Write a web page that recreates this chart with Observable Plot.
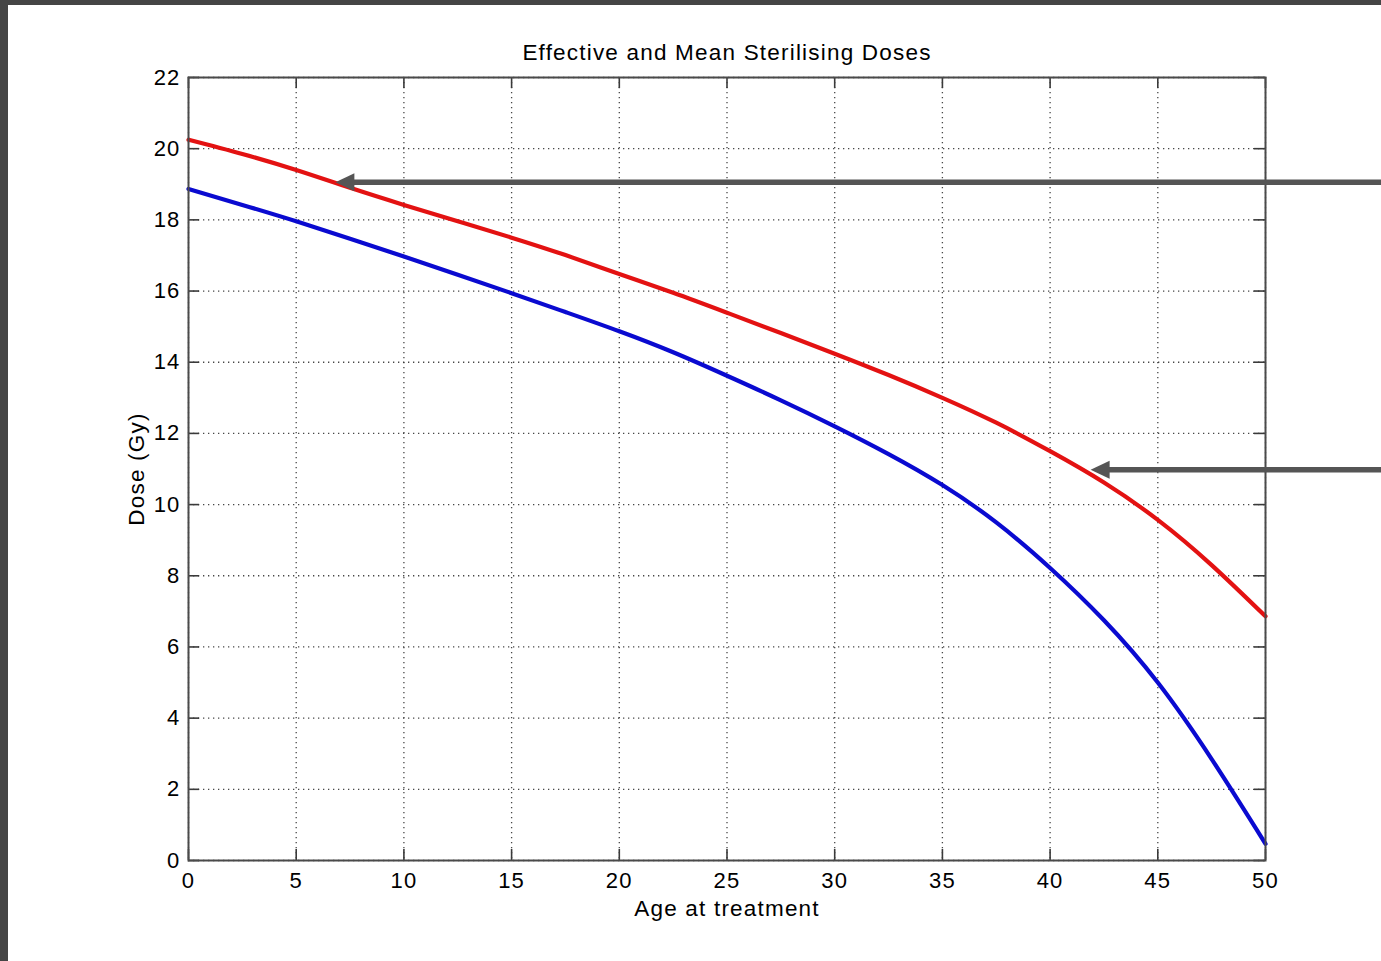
<!DOCTYPE html>
<html>
<head>
<meta charset="utf-8">
<script src="https://cdn.jsdelivr.net/npm/d3@7"></script>
<script src="https://cdn.jsdelivr.net/npm/@observablehq/plot@0.6"></script>
<style>
  html, body { margin: 0; padding: 0; background: #454545; overflow: hidden; }
  #page { position: absolute; left: 8px; top: 5px; width: 1373px; height: 956px; background: #ffffff; overflow: hidden; }
</style>
</head>
<body>
<div id="page"></div>
<script>
// Age at treatment (years)
const ages = [0, 2.5, 5, 7.5, 10, 12.5, 15, 17.5, 20, 22.5, 25, 27.5, 30, 32.5, 35, 37.5, 40, 42.5, 45, 47.5, 50];
// Effective sterilising dose (red, Gy)
const effectiveDose = [20.25, 19.85, 19.4, 18.9, 18.42, 17.96, 17.5, 17.01, 16.48, 15.95, 15.39, 14.82, 14.24, 13.64, 13.0, 12.3, 11.5, 10.62, 9.57, 8.3, 6.86];
// Mean sterilising dose (blue, Gy)
const meanDose = [18.87, 18.42, 17.96, 17.47, 16.97, 16.46, 15.94, 15.41, 14.87, 14.28, 13.62, 12.93, 12.2, 11.42, 10.55, 9.5, 8.22, 6.75, 5.0, 2.85, 0.47];
// Tick values
const xTicks = [0, 5, 10, 15, 20, 25, 30, 35, 40, 45, 50];
const yTicks = [0, 2, 4, 6, 8, 10, 12, 14, 16, 18, 20, 22];
// Annotation arrows (tip positions in data units, tails run off the right edge)
const arrowTipAge = [6.82, 41.88];
const arrowTipDose = [19.06, 10.98];
const arrowTailAge = 56;

const titleText = "Effective and Mean Sterilising Doses";
const xLabel = "Age at treatment";
const yLabel = "Dose (Gy)";

const effRows = ages.map((a, i) => ({age: a, dose: effectiveDose[i]}));
const meanRows = ages.map((a, i) => ({age: a, dose: meanDose[i]}));
const arrows = arrowTipAge.map((a, i) => ({tipX: a, tipY: arrowTipDose[i], tailX: arrowTailAge}));

const W = 1373, H = 956, ML = 180, MR = 116, MT = 72, MB = 101;
const frameW = W - ML - MR, frameH = H - MT - MB;
const tickLen = 11;
const tickColor = "#3a3a3a";
const gridStyle = {stroke: "#333", strokeOpacity: 0.9, strokeWidth: 1.3, strokeDasharray: "1.3,3.7"};

const chart = Plot.plot({
  width: W,
  height: H,
  marginLeft: ML,
  marginRight: MR,
  marginTop: MT,
  marginBottom: MB,
  x: {domain: [0, 50]},
  y: {domain: [0, 22]},
  style: {fontFamily: "'Liberation Sans', Arial, sans-serif", fontSize: "22px", letterSpacing: "1.2px", color: "#000", background: "transparent", overflow: "visible"},
  marks: [
    Plot.gridX(xTicks, gridStyle),
    Plot.gridY(yTicks, gridStyle),
    Plot.ruleX(xTicks, {x: d => d, insetTop: frameH - tickLen, stroke: tickColor, strokeWidth: 1.6}),
    Plot.ruleX(xTicks, {x: d => d, insetBottom: frameH - tickLen, stroke: tickColor, strokeWidth: 1.6}),
    Plot.ruleY(yTicks, {y: d => d, insetRight: frameW - tickLen, stroke: tickColor, strokeWidth: 1.6}),
    Plot.ruleY(yTicks, {y: d => d, insetLeft: frameW - tickLen, stroke: tickColor, strokeWidth: 1.6}),
    Plot.line(meanRows, {x: "age", y: "dose", stroke: "#0a0ad0", strokeWidth: 4.2, curve: "natural", strokeLinejoin: "round"}),
    Plot.line(effRows, {x: "age", y: "dose", stroke: "#e31212", strokeWidth: 4.2, curve: "natural", strokeLinejoin: "round"}),
    Plot.frame({stroke: "#4a4a4a", strokeWidth: 2}),
    Plot.link(arrows, {x1: "tipX", y1: "tipY", x2: "tailX", y2: "tipY", dx: 15, stroke: "#555555", strokeWidth: 5.5}),
    Plot.vector(arrows, {x: "tipX", y: "tipY", length: 19, rotate: -90, anchor: "end", shape: "spike", r: 9, fill: "#555555", stroke: "none"}),
    Plot.axisX(xTicks, {tickSize: 0, tickPadding: 12, label: null, fontSize: 22}),
    Plot.axisY(yTicks, {tickSize: 0, tickPadding: 8, label: null, fontSize: 22}),
    Plot.text([titleText], {frameAnchor: "top", dy: -25, lineAnchor: "middle", textAnchor: "middle", fontSize: 22.5}),
    Plot.text([xLabel], {frameAnchor: "bottom", dy: 48, lineAnchor: "middle", textAnchor: "middle", fontSize: 22.5}),
    Plot.text([yLabel], {frameAnchor: "left", dx: -52, rotate: -90, lineAnchor: "middle", textAnchor: "middle", fontSize: 22.5})
  ]
});
document.getElementById("page").appendChild(chart);
</script>
</body>
</html>
